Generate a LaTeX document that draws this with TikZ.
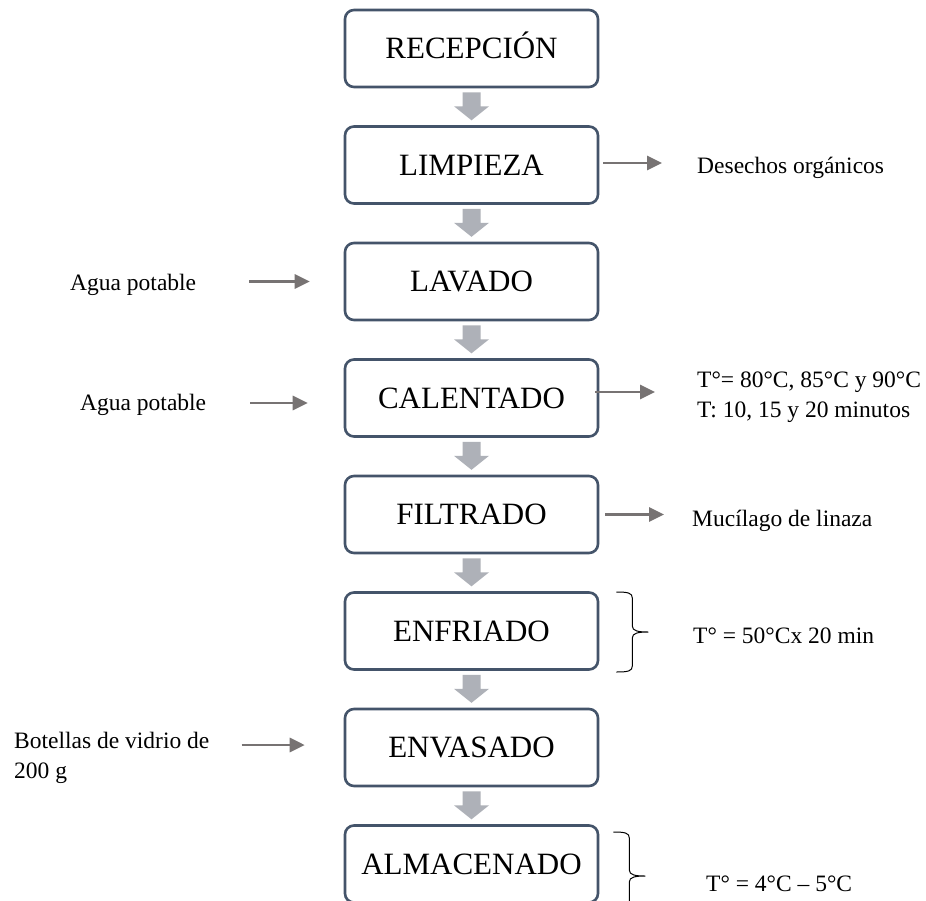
\documentclass[tikz,border=0pt]{standalone}
\usepackage{fontspec}
\setmainfont{Liberation Serif}
\usetikzlibrary{calc,arrows.meta}
\definecolor{boxc}{HTML}{44546A}
\definecolor{blkc}{HTML}{AEB1B8}
\definecolor{arrc}{HTML}{777373}
\newcommand\blkarrow[1]{\fill[blkc] ($(#1.south)+(-9,4)$) -- ($(#1.south)+(9,4)$) -- ($(#1.south)+(9,18)$) -- ($(#1.south)+(17.5,18)$) -- ($(#1.south)+(0,32)$) -- ($(#1.south)+(-17.5,18)$) -- ($(#1.south)+(-9,18)$) -- cycle;}
\newcommand\sidebrace[2]{\draw[bracec] ($(#1)+(-32,-#2)$) .. controls ($(#1)+(-20,-#2)$) and ($(#1)+(-16,-#2+1)$) .. ($(#1)+(-16,-#2+6)$) -- ($(#1)+(-16,-6)$) .. controls ($(#1)+(-16,-1)$) and ($(#1)+(-10,0)$) .. (#1) .. controls ($(#1)+(-10,0)$) and ($(#1)+(-16,1)$) .. ($(#1)+(-16,6)$) -- ($(#1)+(-16,#2-6)$) .. controls ($(#1)+(-16,#2-1)$) and ($(#1)+(-20,#2)$) .. ($(#1)+(-32,#2)$);}
\begin{document}
\begin{tikzpicture}[x=1pt,y=-1pt,
  stepbox/.style={draw=boxc, line width=2.6pt, rounded corners=9pt, minimum width=253pt, minimum height=77pt, inner sep=0pt, font=\fontsize{31}{36}\selectfont, text height=20.5pt, text depth=0pt},
  note/.style={inner sep=0pt, anchor=base west, align=left, font=\fontsize{23.5}{30}\selectfont},
  sidearr/.style={draw=arrc, line width=2.8pt, -{Triangle[length=15pt,width=14pt]}},
  bracec/.style={draw=black, line width=1pt}]
\clip (0,0) rectangle (926,900);
\fill[white] (0,0) rectangle (926,900);
% process boxes
\node[stepbox] (recep)  at (471.5,48.5)  {RECEPCIÓN};
\node[stepbox] (limp)   at (471.5,165)   {LIMPIEZA};
\node[stepbox] (lavado) at (471.5,281.5) {LAVADO};
\node[stepbox] (calent) at (471.5,398)   {CALENTADO};
\node[stepbox] (filt)   at (471.5,514.5) {FILTRADO};
\node[stepbox] (enfr)   at (471.5,631)   {ENFRIADO};
\node[stepbox] (envas)  at (471.5,747.5) {ENVASADO};
\node[stepbox] (almac)  at (471.5,864)   {ALMACENADO};
% block arrows
\blkarrow{recep}
\blkarrow{limp}
\blkarrow{lavado}
\blkarrow{calent}
\blkarrow{filt}
\blkarrow{enfr}
\blkarrow{envas}
% notes
\node[note] (desechos) at (697,173) {Desechos orgánicos};
\node[note] (agua1) at (70,290) {Agua potable};
\node[note] (agua2) at (80,410) {Agua potable};
\node[note] (tcal) at (697,417) {T°= 80°C, 85°C y 90°C\\T: 10, 15 y 20 minutos};
\node[note] (mucil) at (692,526) {Mucílago de linaza};
\node[note] (tenf) at (693,643) {T° = 50°Cx 20 min};
\node[note] (botellas) at (14,778) {Botellas de vidrio de\\200 g};
\node[note] (talm) at (706,891) {T° = 4°C – 5°C};
% side arrows
\coordinate (c1) at ($(limp.east)+(0,-2)$);
\draw[sidearr, shorten <=4pt, shorten >=35pt] (c1) -- (c1 -| desechos.west);
\coordinate (c2) at (lavado.west);
\draw[sidearr, shorten <=53pt, shorten >=34pt] (c2 -| agua1.east) -- (c2);
\coordinate (c3) at ($(calent.west)+(0,5)$);
\draw[sidearr, shorten <=44pt, shorten >=36pt] (c3 -| agua2.east) -- (c3);
\coordinate (c4) at ($(calent.east)+(0,-6)$);
\draw[sidearr, shorten <=-4pt, shorten >=42pt] (c4) -- (c4 -| tcal.west);
\coordinate (c5) at (filt.east);
\draw[sidearr, shorten <=6pt, shorten >=28pt] (c5) -- (c5 -| mucil.west);
\coordinate (c6) at ($(envas.west)+(0,-2.5)$);
\draw[sidearr, shorten <=32pt, shorten >=39pt] (c6 -| botellas.east) -- (c6);
% braces
\coordinate (b1) at ($(enfr.east)+(49,1)$);
\sidebrace{b1}{40}
\coordinate (b2) at ($(almac.east)+(46,12)$);
\sidebrace{b2}{44}
\end{tikzpicture}
\end{document}
